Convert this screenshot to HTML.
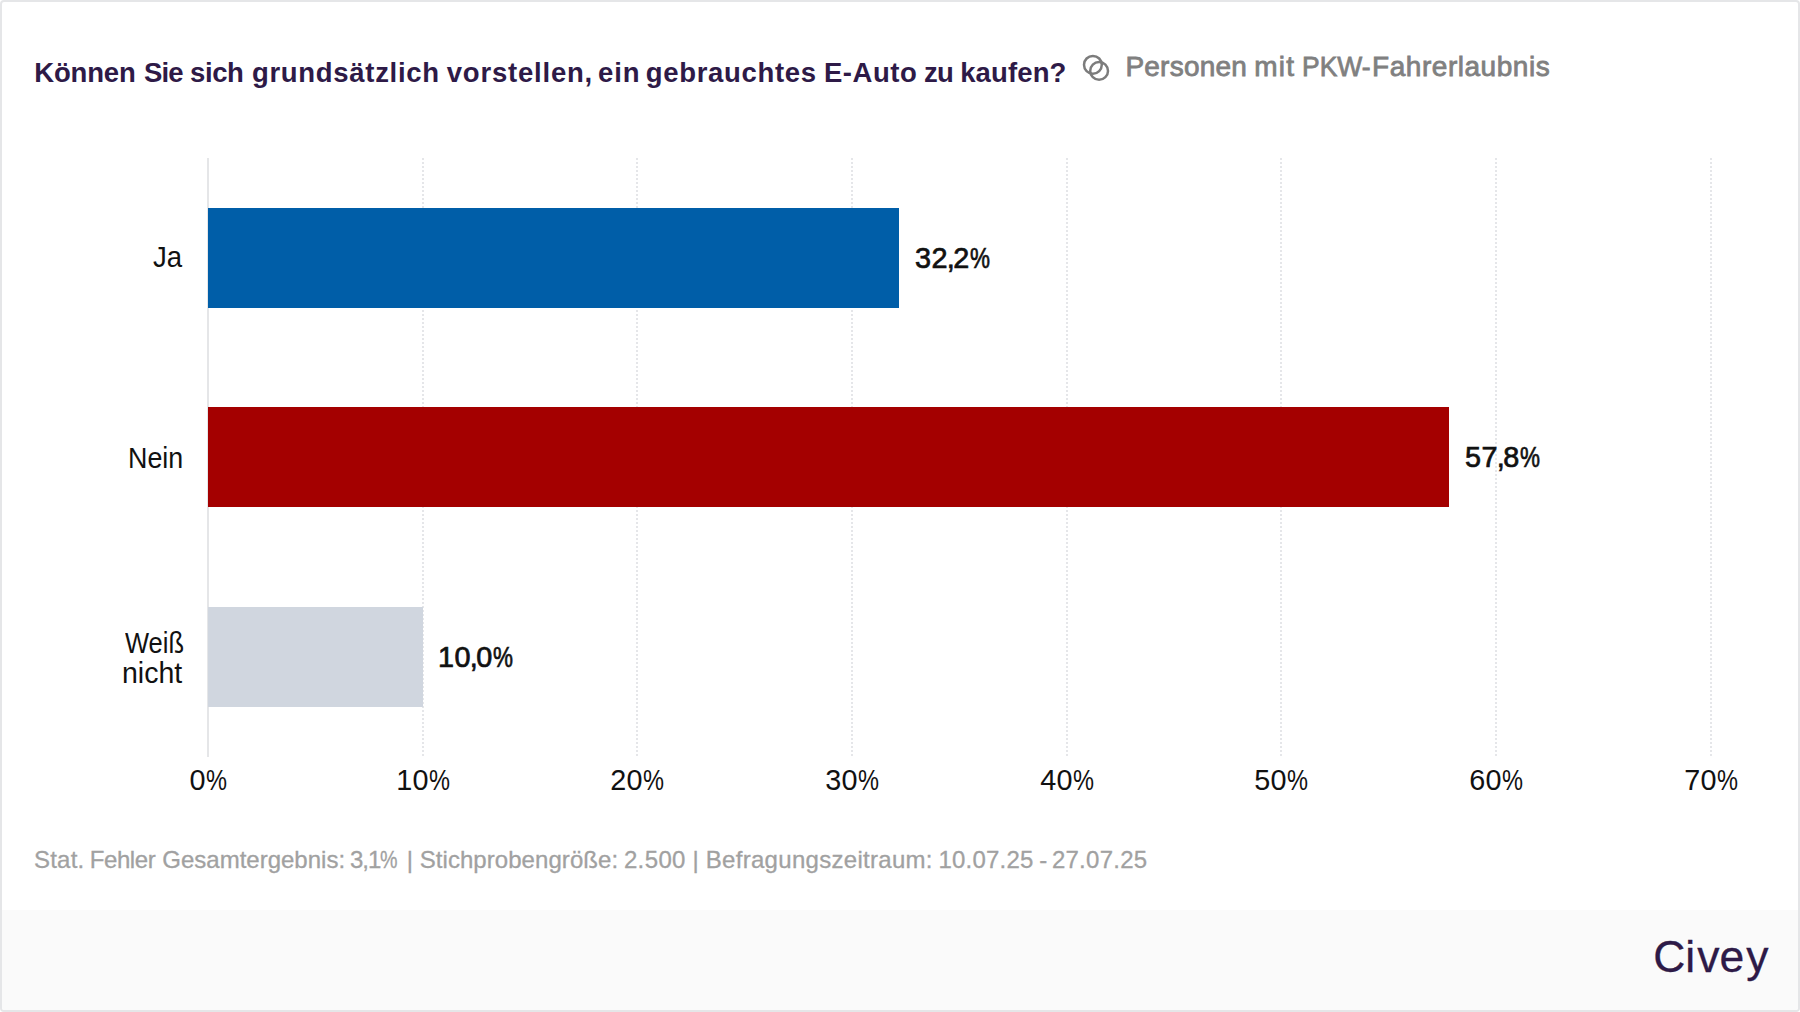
<!DOCTYPE html>
<html lang="de">
<head>
<meta charset="utf-8">
<title>Civey – Können Sie sich grundsätzlich vorstellen, ein gebrauchtes E-Auto zu kaufen?</title>
<style>
  html, body { margin: 0; padding: 0; background: #ffffff; }
  body { width: 1800px; height: 1012px; overflow: hidden; font-family: "Liberation Sans", sans-serif; }
  #card { position: absolute; left: 0; top: 0; width: 1800px; height: 1012px; box-sizing: border-box;
          border: 2px solid #e5e6e8; border-radius: 4px; background: #ffffff; overflow: hidden; }
  .abs { position: absolute; white-space: nowrap; }
  #title { left: 0; top: 51px; width: 1100px; height: 40px; font-size: 27.5px; line-height: 40px; font-weight: bold; color: #2e1a47; }
  #title span { position: absolute; top: 0; }
  #subtitle { left: 0; top: 45px; width: 1700px; height: 40px; font-size: 28px; line-height: 40px; color: #808080; -webkit-text-stroke: 0.8px #808080; }
  #subtitle span { position: absolute; top: 0; }
  #icon { left: 1079px; top: 51px; width: 32px; height: 32px; }
  .grid { position: absolute; top: 156px; width: 2px; height: 598px;
          background: repeating-linear-gradient(to bottom, #e5e6e9 0, #e5e6e9 2px, transparent 2px, transparent 4px); }
  #axis { position: absolute; left: 205px; top: 156px; width: 2px; height: 599px; background: #e5e6e8; }
  .bar { position: absolute; left: 206px; height: 100px; }
  .cat { font-size: 28.8px; line-height: 30px; color: #111111; transform-origin: 0 50%; }
  .val { font-size: 28.8px; line-height: 30px; color: #111111; letter-spacing: 0.4px; -webkit-text-stroke: 0.7px #111111; }
  .cm { letter-spacing: -1.6px; margin-left: -1px; }
  .val .pc { transform: scaleX(0.78); margin-right: -5.6px; }
  .pc { display: inline-block; transform: scaleX(0.82); transform-origin: 0 50%; margin-right: -4.6px; letter-spacing: 0; }
  .tick { top: 763px; width: 120px; margin-left: -60px; text-align: center; font-size: 28.8px; letter-spacing: 0.2px; line-height: 30px; color: #111111; }
  #note { left: 0; top: 843px; width: 1200px; height: 30px; font-size: 24px; line-height: 30px; color: #a1a1a1; -webkit-text-stroke: 0.3px #a1a1a1; }
  #note span { position: absolute; top: 0; }
  #footer { position: absolute; left: 0; top: 908px; width: 1796px; height: 100px; background: #fafafa; }
  #logo { right: 29.5px; top: 930px; font-size: 44.5px; line-height: 50px; color: #2e1a47; -webkit-text-stroke: 0.3px #2e1a47; }
</style>
</head>
<body>
<div id="card">
  <div id="title" class="abs"><span style="left:32.2px;letter-spacing:-0.16px">Können</span> <span style="left:142.1px;letter-spacing:-0.9px">Sie</span> <span style="left:188.1px;letter-spacing:-0.4px">sich</span> <span style="left:249.9px;letter-spacing:0.7px">grundsätzlich</span> <span style="left:444.7px;letter-spacing:0.8px">vorstellen,</span> <span style="left:595.9px;letter-spacing:0.95px">ein</span> <span style="left:643.7px;letter-spacing:0.69px">gebrauchtes</span> <span style="left:822px;letter-spacing:0.52px">E-Auto</span> <span style="left:921.9px;letter-spacing:-0.7px">zu</span> <span style="left:958.2px;letter-spacing:0.12px">kaufen?</span></div>
  <svg id="icon" class="abs" viewBox="0 0 32 32">
    <circle cx="11.9" cy="11.8" r="8.9" fill="none" stroke="#7c7c7c" stroke-width="2.5"/>
    <circle cx="18.1" cy="17.9" r="8.9" fill="none" stroke="#7c7c7c" stroke-width="2.5"/>
  </svg>
  <div id="subtitle" class="abs"><span style="left:1123.4px;letter-spacing:0.23px">Personen</span> <span style="left:1252.3px;letter-spacing:1.2px">mit</span> <span style="left:1300px;transform:scaleX(0.944);transform-origin:0 50%">PKW-</span><span style="left:1370.1px;letter-spacing:0.53px">Fahrerlaubnis</span></div>

  <div class="grid" style="left:420px"></div>
  <div class="grid" style="left:634px"></div>
  <div class="grid" style="left:849px"></div>
  <div class="grid" style="left:1064px"></div>
  <div class="grid" style="left:1278px"></div>
  <div class="grid" style="left:1493px"></div>
  <div class="grid" style="left:1708px"></div>
  <div id="axis"></div>

  <div class="bar" style="top:206px;width:691px;background:#005ea8"></div>
  <div class="bar" style="top:405px;width:1241px;background:#a40000"></div>
  <div class="bar" style="top:605px;width:215px;background:#d0d6df"></div>

  <div class="abs cat" style="left:151.3px;top:240px;transform:scaleX(0.958)">Ja</div>
  <div class="abs cat" style="left:125.5px;top:440.5px;transform:scaleX(0.932)">Nein</div>
  <div class="abs cat" style="left:123.4px;top:626px;transform:scaleX(0.886)">Weiß</div>
  <div class="abs cat" style="left:120.2px;top:656px;transform:scaleX(0.99)">nicht</div>

  <div class="abs val" style="left:913px;top:241px">32<span class="cm">,</span>2<span class="pc">%</span></div>
  <div class="abs val" style="left:1463px;top:440px">57<span class="cm">,</span>8<span class="pc">%</span></div>
  <div class="abs val" style="left:436px;top:640px">10<span class="cm">,</span>0<span class="pc">%</span></div>

  <div class="abs tick" style="left:206px">0<span class="pc">%</span></div>
  <div class="abs tick" style="left:421px">10<span class="pc">%</span></div>
  <div class="abs tick" style="left:635px">20<span class="pc">%</span></div>
  <div class="abs tick" style="left:850px">30<span class="pc">%</span></div>
  <div class="abs tick" style="left:1065px">40<span class="pc">%</span></div>
  <div class="abs tick" style="left:1279px">50<span class="pc">%</span></div>
  <div class="abs tick" style="left:1494px">60<span class="pc">%</span></div>
  <div class="abs tick" style="left:1709px">70<span class="pc">%</span></div>

  <div id="note" class="abs"><span style="left:31.9px;letter-spacing:0.25px">Stat.</span> <span style="left:87.8px;letter-spacing:-0.44px">Fehler</span> <span style="left:160.3px;letter-spacing:0.0px">Gesamtergebnis:</span> <span style="left:348.1px;letter-spacing:-1.1px">3,1<span class="pc" style="margin-right:-3.4px">%</span></span> <span style="left:404.8px">|</span> <span style="left:417.7px;letter-spacing:0.06px">Stichprobengröße:</span> <span style="left:621.9px;letter-spacing:0.38px">2.500</span> <span style="left:690.5px">|</span> <span style="left:703.8px;letter-spacing:0.29px">Befragungszeitraum:</span> <span style="left:936.4px;letter-spacing:0.21px">10.07.25</span> <span style="left:1037.2px">-</span> <span style="left:1049.9px;letter-spacing:0.26px">27.07.25</span></div>

  <div id="footer"></div>
  <div id="logo" class="abs">C<span style="letter-spacing:2px">i</span>v<span style="letter-spacing:2px">e</span>y</div>
</div>
</body>
</html>
